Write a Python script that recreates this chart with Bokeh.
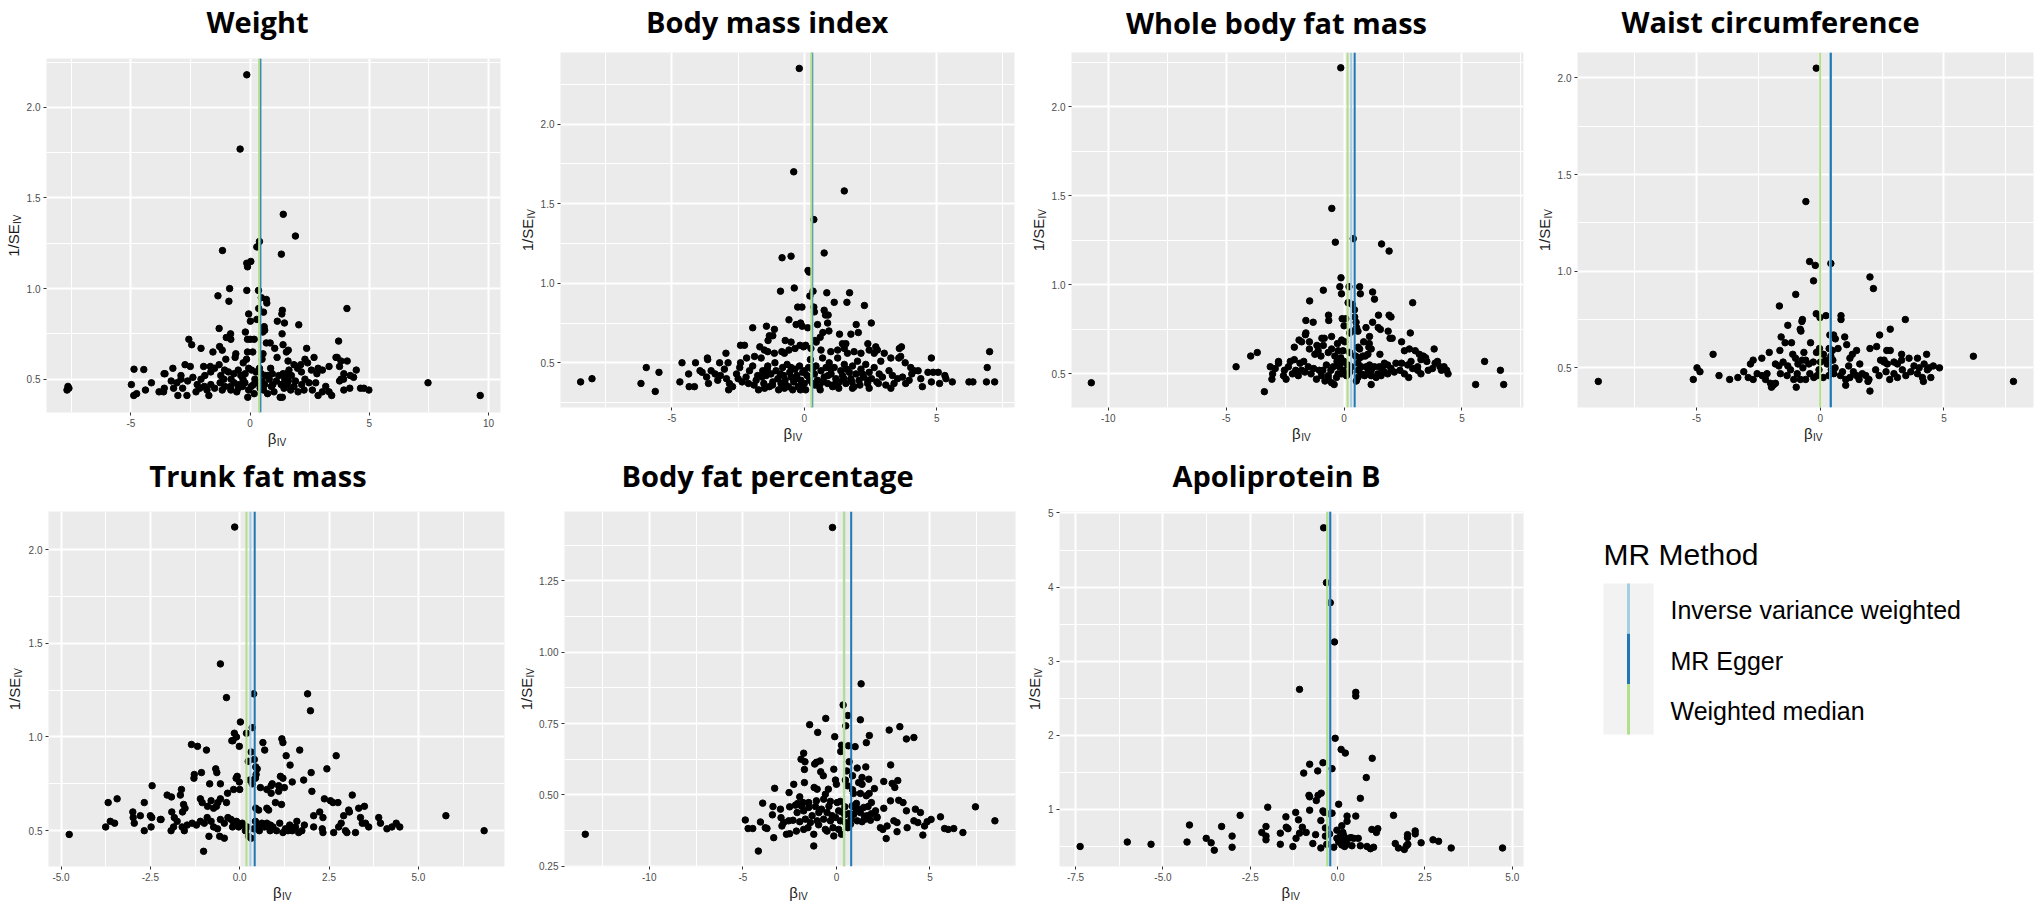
import math
from bokeh.plotting import figure
from bokeh.models import Range1d, FixedTicker, Span, Label
from bokeh.layouts import row, column
from bokeh.embed import file_html
from bokeh.resources import INLINE

# ---------------- data ----------------
METHODS = ["Inverse variance weighted", "MR Egger", "Weighted median"]
METHOD_COLORS = ["#a6cee3", "#1f78b4", "#b2df8a"]
LEGEND_TITLE = "MR Method"
Y_TITLE, Y_SUB = "1/SE", "IV"
X_TITLE, X_SUB = "β", "IV"

TITLES = ["Weight", "Body mass index", "Whole body fat mass", "Waist circumference",
          "Trunk fat mass", "Body fat percentage", "Apoliprotein B"]

# MR estimates (IVW, Egger, WM) per outcome
weight_est = [0.40, 0.43, 0.38]
bmi_est = [0.28, 0.30, 0.27]
wbfm_est = [0.30, 0.45, 0.15]
waist_est = [0.40, 0.43, 0.00]
trunk_est = [0.30, 0.42, 0.19]
bfp_est = [0.42, 0.79, 0.40]
apob_est = [-0.23, -0.21, -0.30]

weight_pts = [
    (-0.14, 2.18), (-0.42, 1.77), (1.39, 1.41), (1.90, 1.29), (0.39, 1.26), (0.28, 1.23), (-1.16, 1.21), (1.31, 1.19),
    (0.03, 1.15), (-0.14, 1.14), (-0.11, 1.12), (-0.86, 1.00), (-0.14, 0.99), (0.35, 0.99), (-1.35, 0.96), (-0.89, 0.93),
    (0.47, 0.95), (0.68, 0.94), (0.70, 0.92), (4.06, 0.89), (0.36, 0.89), (1.35, 0.88), (1.33, 0.86), (-0.06, 0.86),
    (0.56, 0.87), (0.01, 0.82), (0.28, 0.83), (1.14, 0.82), (1.44, 0.81), (2.04, 0.80), (-1.30, 0.78), (0.59, 0.79),
    (0.61, 0.77), (0.53, 0.76), (-0.20, 0.76), (-0.82, 0.75), (1.34, 0.75), (0.01, 0.72), (-0.11, 0.72), (0.17, 0.72),
    (-2.57, 0.72), (3.71, 0.71), (-2.45, 0.69), (-1.00, 0.73), (-0.81, 0.72), (0.68, 0.70), (0.84, 0.70), (1.38, 0.69),
    (-2.06, 0.67), (1.03, 0.67), (2.37, 0.67), (-1.28, 0.68), (-1.56, 0.65), (-1.17, 0.66), (-0.11, 0.65), (0.11, 0.65),
    (-0.60, 0.64), (0.54, 0.64), (1.52, 0.65), (1.60, 0.66), (2.68, 0.62), (3.60, 0.62), (3.65, 0.62), (-0.63, 0.62),
    (-1.02, 0.61), (-0.15, 0.61), (0.50, 0.61), (1.13, 0.62), (4.07, 0.60), (2.30, 0.61), (1.59, 0.60), (-0.29, 0.59),
    (1.84, 0.58), (2.12, 0.58), (2.41, 0.59), (3.81, 0.60), (3.75, 0.57), (3.31, 0.57), (-1.95, 0.57), (-2.73, 0.58),
    (-2.51, 0.57), (-1.67, 0.57), (-1.49, 0.56), (-1.30, 0.58), (-4.87, 0.555), (-4.46, 0.553), (-3.24, 0.56),
    (-3.57, 0.53), (-3.61, 0.53), (-2.90, 0.52), (-2.90, 0.50), (-3.31, 0.49), (-3.07, 0.48), (4.45, 0.55), (4.34, 0.51),
    (3.93, 0.53), (4.20, 0.52), (3.92, 0.50), (3.81, 0.50), (3.75, 0.49), (2.85, 0.56), (3.03, 0.55), (2.57, 0.55),
    (2.80, 0.53), (1.99, 0.56), (2.15, 0.54), (1.63, 0.55), (1.53, 0.53), (1.73, 0.52), (1.38, 0.53), (1.20, 0.52),
    (1.45, 0.50), (0.86, 0.56), (0.93, 0.53), (0.74, 0.52), (0.39, 0.56), (0.25, 0.54), (0.47, 0.53), (-0.06, 0.56),
    (0.06, 0.55), (-0.21, 0.53), (-0.50, 0.55), (-0.68, 0.53), (-0.39, 0.52), (-1.07, 0.55), (-0.91, 0.54), (-1.23, 0.52),
    (-1.65, 0.54), (-1.90, 0.52), (-2.06, 0.50), (-2.40, 0.51), (-2.62, 0.49), (-4.98, 0.47), (-4.88, 0.41), (-4.76, 0.42),
    (-4.39, 0.44), (-4.14, 0.48), (-3.82, 0.43), (-3.60, 0.45), (-3.63, 0.43), (-3.03, 0.41), (-2.65, 0.41), (-2.83, 0.45),
    (-3.21, 0.45), (-2.22, 0.47), (-2.11, 0.45), (-1.92, 0.46), (-2.27, 0.43), (-1.73, 0.41), (-1.81, 0.44), (-1.49, 0.45),
    (-1.65, 0.47), (-1.26, 0.48), (-1.06, 0.46), (-0.82, 0.46), (-1.17, 0.44), (-0.67, 0.48), (-0.50, 0.45), (-0.32, 0.46),
    (-0.56, 0.43), (-0.81, 0.44), (-0.10, 0.40), (-0.06, 0.44), (0.14, 0.47), (-0.22, 0.48), (0.17, 0.42), (0.31, 0.48),
    (0.42, 0.45), (0.56, 0.44), (0.61, 0.47), (0.73, 0.42), (0.89, 0.46), (1.00, 0.43), (1.26, 0.40), (1.35, 0.40),
    (1.42, 0.45), (1.56, 0.47), (1.70, 0.44), (1.84, 0.46), (2.01, 0.43), (2.16, 0.47), (2.26, 0.44), (2.47, 0.48),
    (2.61, 0.44), (2.75, 0.48), (2.85, 0.41), (3.03, 0.43), (3.17, 0.46), (3.31, 0.43), (3.42, 0.41), (3.93, 0.44),
    (4.18, 0.45), (4.63, 0.45), (4.77, 0.45), (4.98, 0.44), (7.46, 0.48), (9.65, 0.41), (-7.68, 0.44), (-7.60, 0.45),
    (-7.64, 0.46), (-0.30, 0.50), (0.20, 0.50), (0.50, 0.49), (0.80, 0.50), (1.10, 0.49), (-0.80, 0.50), (-1.10, 0.50),
    (0.65, 0.52), (0.95, 0.47), (1.60, 0.49), (-0.45, 0.47), (0.05, 0.46), (1.30, 0.47), (1.90, 0.49), (2.30, 0.50),
]

bmi_pts = [
    (-0.19, 2.35), (-0.40, 1.70), (1.51, 1.58), (0.36, 1.40), (0.75, 1.19), (-0.84, 1.16), (-0.50, 1.17), (0.14, 1.08),
    (0.18, 1.07), (-0.38, 0.97), (-0.90, 0.95), (0.33, 0.95), (0.85, 0.94), (1.71, 0.94), (0.21, 0.92), (1.13, 0.88),
    (1.61, 0.88), (2.27, 0.86), (-0.25, 0.85), (-0.09, 0.85), (0.36, 0.85), (0.38, 0.82), (0.75, 0.83), (0.80, 0.80),
    (0.90, 0.80), (-0.58, 0.77), (0.88, 0.75), (0.50, 0.74), (-0.14, 0.75), (-0.31, 0.74), (-0.08, 0.73), (0.13, 0.72),
    (1.96, 0.74), (2.53, 0.75), (-1.95, 0.72), (-1.43, 0.73), (-1.13, 0.71), (0.70, 0.69), (0.93, 0.70), (0.60, 0.66),
    (1.33, 0.68), (1.76, 0.68), (2.04, 0.69), (-1.32, 0.67), (-1.19, 0.67), (-1.37, 0.64), (-0.72, 0.64), (-0.50, 0.63),
    (0.40, 0.64), (0.45, 0.63), (1.44, 0.62), (1.57, 0.62), (2.40, 0.62), (-2.41, 0.61), (-2.26, 0.61), (-2.96, 0.56),
    (-0.16, 0.61), (0.05, 0.61), (-0.03, 0.60), (-0.35, 0.59), (-0.58, 0.58), (-0.85, 0.57), (-0.75, 0.56), (-1.68, 0.60),
    (-1.51, 0.58), (-1.38, 0.57), (-1.13, 0.56), (0.25, 0.59), (0.63, 0.58), (1.00, 0.57), (1.26, 0.58), (1.51, 0.59),
    (1.88, 0.57), (2.14, 0.56), (2.70, 0.60), (2.76, 0.58), (3.02, 0.56), (3.27, 0.53), (3.59, 0.59), (3.67, 0.60),
    (3.64, 0.54), (3.57, 0.53), (-2.18, 0.53), (-1.88, 0.54), (-1.63, 0.53), (-3.66, 0.53), (-3.65, 0.52), (-4.62, 0.50),
    (-4.11, 0.50), (-3.20, 0.50), (-2.88, 0.50), (-2.41, 0.50), (4.80, 0.53), (7.00, 0.57), (6.91, 0.47), (-5.97, 0.47),
    (-5.49, 0.44), (4.67, 0.44), (4.87, 0.44), (5.06, 0.44), (5.31, 0.42), (5.35, 0.40), (3.81, 0.50), (4.02, 0.47),
    (4.15, 0.45), (4.40, 0.40), (4.30, 0.45), (5.59, 0.38), (4.80, 0.38), (5.11, 0.37), (4.46, 0.35), (6.22, 0.38),
    (6.37, 0.38), (6.88, 0.38), (7.19, 0.38), (-8.45, 0.38), (-8.02, 0.40), (-6.17, 0.37), (-5.63, 0.32), (-4.70, 0.38),
    (-4.35, 0.35), (-4.15, 0.35), (-4.37, 0.43), (-3.94, 0.45), (-3.86, 0.44), (-3.69, 0.41), (-3.62, 0.37), (-3.52, 0.45),
    (-3.37, 0.43), (-3.27, 0.39), (-3.17, 0.42), (-3.02, 0.46), (-2.94, 0.40), (-2.83, 0.37), (-2.86, 0.33), (-2.71, 0.35),
    (-2.56, 0.43), (-2.44, 0.47), (-2.35, 0.38), (-2.20, 0.41), (-2.07, 0.45), (-2.11, 0.37), (-1.95, 0.48), (-1.82, 0.39),
    (-1.76, 0.42), (-1.73, 0.33), (-1.57, 0.45), (-1.53, 0.37), (-1.44, 0.42), (-1.38, 0.48), (-1.32, 0.35), (-1.26, 0.43),
    (-1.19, 0.38), (-1.11, 0.50), (-1.07, 0.45), (-1.00, 0.40), (-0.97, 0.33), (-0.88, 0.37), (-0.82, 0.47), (-0.78, 0.42),
    (-0.73, 0.39), (-0.65, 0.49), (-0.60, 0.35), (-0.55, 0.44), (-0.50, 0.41), (-0.44, 0.33), (-0.40, 0.38), (-0.35, 0.46),
    (-0.28, 0.42), (-0.23, 0.35), (-0.18, 0.48), (-0.13, 0.39), (-0.06, 0.44), (0.00, 0.37), (0.05, 0.33), (0.10, 0.42),
    (0.16, 0.47), (0.23, 0.52), (0.31, 0.37), (0.38, 0.43), (0.44, 0.48), (0.50, 0.39), (0.57, 0.35), (0.63, 0.45),
    (0.69, 0.53), (0.75, 0.41), (0.82, 0.47), (0.88, 0.37), (0.94, 0.50), (1.01, 0.43), (1.07, 0.36), (1.13, 0.47),
    (1.19, 0.40), (1.26, 0.53), (1.32, 0.38), (1.38, 0.45), (1.44, 0.42), (1.51, 0.49), (1.57, 0.37), (1.63, 0.56),
    (1.70, 0.44), (1.76, 0.40), (1.82, 0.48), (1.88, 0.35), (1.95, 0.43), (2.01, 0.51), (2.07, 0.39), (2.14, 0.46),
    (2.24, 0.41), (2.32, 0.49), (2.39, 0.37), (2.45, 0.44), (2.54, 0.40), (2.64, 0.47), (2.74, 0.38), (2.83, 0.43),
    (2.95, 0.41), (3.08, 0.36), (3.20, 0.45), (3.33, 0.42), (3.39, 0.37), (3.52, 0.40), (3.71, 0.41), (3.83, 0.37),
    (3.96, 0.39), (4.06, 0.43), (2.45, 0.34), (3.27, 0.34), (1.82, 0.34), (1.07, 0.35), (2.89, 0.51), (2.64, 0.56),
    (2.45, 0.58), (-1.90, 0.36), (-1.60, 0.41), (-1.20, 0.36), (-0.90, 0.43), (-0.70, 0.36), (-0.30, 0.40), (-0.10, 0.36),
    (0.20, 0.39), (0.40, 0.36), (0.70, 0.38), (0.90, 0.42), (1.20, 0.37), (1.50, 0.40), (1.80, 0.38), (2.10, 0.36),
    (2.40, 0.39), (2.80, 0.37), (0.00, 0.45), (0.30, 0.46), (-0.50, 0.47), (1.00, 0.46), (1.60, 0.46), (-1.40, 0.46),
    (2.20, 0.43), (-2.50, 0.40), (-0.15, 0.33), (0.60, 0.33), (1.30, 0.34), (-0.75, 0.34), (-1.50, 0.34),
]

wbfm_pts = [
    (-0.14, 2.22), (-0.52, 1.43), (-0.37, 1.24), (0.39, 1.26), (1.59, 1.23), (1.91, 1.19), (-0.13, 1.04), (-0.18, 0.99),
    (0.21, 0.99), (0.66, 0.99), (-0.11, 0.95), (0.69, 0.95), (-0.88, 0.97), (1.21, 0.96), (1.29, 0.92), (-1.46, 0.91),
    (2.91, 0.90), (0.17, 0.90), (0.35, 0.89), (0.44, 0.86), (0.45, 0.82), (-0.66, 0.83), (-0.65, 0.80), (1.46, 0.83),
    (1.91, 0.83), (1.99, 0.82), (-1.62, 0.80), (-1.31, 0.79), (-0.08, 0.81), (0.07, 0.81), (0.51, 0.79), (0.53, 0.76),
    (1.21, 0.79), (0.00, 0.77), (0.93, 0.76), (1.45, 0.76), (1.54, 0.75), (0.59, 0.74), (0.34, 0.74), (0.24, 0.73),
    (1.87, 0.74), (-1.62, 0.73), (-1.64, 0.72), (2.81, 0.73), (1.95, 0.70), (2.04, 0.70), (1.08, 0.71), (-0.84, 0.70),
    (-0.94, 0.70), (-0.53, 0.71), (-0.10, 0.69), (0.03, 0.68), (-1.91, 0.69), (-1.80, 0.68), (-1.47, 0.68), (2.44, 0.68),
    (0.83, 0.68), (1.07, 0.67), (-1.15, 0.66), (-0.88, 0.66), (-0.28, 0.67), (0.60, 0.65), (0.66, 0.64), (1.05, 0.65),
    (1.15, 0.64), (-2.11, 0.65), (3.82, 0.64), (2.56, 0.63), (2.77, 0.64), (3.02, 0.63), (-1.47, 0.64), (-1.10, 0.63),
    (-0.53, 0.64), (-0.67, 0.62), (-0.25, 0.63), (-0.04, 0.63), (0.24, 0.62), (-3.96, 0.60), (-3.68, 0.62), (1.52, 0.61),
    (1.01, 0.61), (0.80, 0.60), (3.19, 0.61), (3.36, 0.60), (3.46, 0.59), (-1.24, 0.61), (-0.98, 0.60), (-0.39, 0.60),
    (-0.14, 0.59), (0.49, 0.60), (0.67, 0.59), (0.90, 0.60), (-2.78, 0.57), (-2.28, 0.57), (-2.11, 0.58), (-1.87, 0.56),
    (-1.71, 0.57), (3.26, 0.58), (3.51, 0.57), (3.86, 0.56), (3.96, 0.57), (2.20, 0.56), (2.44, 0.56), (2.70, 0.55),
    (2.84, 0.57), (3.12, 0.54), (1.71, 0.56), (1.85, 0.55), (1.29, 0.54), (1.50, 0.54), (1.62, 0.53), (0.59, 0.56),
    (0.73, 0.54), (0.94, 0.54), (1.08, 0.55), (1.15, 0.52), (-3.13, 0.54), (-2.92, 0.53), (-3.03, 0.50), (-2.78, 0.56),
    (-2.46, 0.47), (-3.06, 0.47), (-4.58, 0.54), (-3.38, 0.40), (-10.72, 0.45), (5.58, 0.44), (5.96, 0.57), (6.63, 0.52),
    (6.77, 0.44), (4.24, 0.54), (4.35, 0.52), (4.13, 0.52), (4.41, 0.50), (4.07, 0.54), (3.75, 0.53), (3.57, 0.52),
    (3.26, 0.50), (3.12, 0.52), (2.91, 0.53), (2.74, 0.48), (2.56, 0.50), (2.37, 0.52), (2.13, 0.51), (1.99, 0.53),
    (1.85, 0.50), (1.71, 0.51), (1.57, 0.49), (1.43, 0.50), (1.36, 0.48), (1.15, 0.49), (1.01, 0.51), (0.87, 0.49),
    (0.73, 0.50), (0.59, 0.48), (0.52, 0.46), (1.15, 0.44), (0.31, 0.54), (0.24, 0.51), (0.10, 0.49), (-0.04, 0.52),
    (-0.14, 0.56), (-0.25, 0.50), (-0.32, 0.48), (-0.46, 0.54), (-0.56, 0.52), (-0.67, 0.49), (-0.42, 0.44), (-0.53, 0.45),
    (-0.67, 0.47), (-0.81, 0.46), (-0.96, 0.49), (-1.05, 0.52), (-1.17, 0.47), (-1.29, 0.53), (-1.40, 0.50), (-1.52, 0.54),
    (-1.66, 0.51), (-1.80, 0.52), (-1.94, 0.49), (-2.05, 0.52), (-2.19, 0.50), (-2.53, 0.52), (-2.36, 0.54), (-2.57, 0.49),
    (-0.20, 0.54), (0.00, 0.57), (0.15, 0.55), (-0.75, 0.55), (-0.10, 0.50), (0.60, 0.52), (-0.90, 0.52), (-0.30, 0.57),
]

waist_pts = [
    (-0.16, 2.05), (-0.58, 1.36), (-0.43, 1.05), (-0.20, 1.03), (0.43, 1.04), (-0.27, 0.95), (2.01, 0.97), (2.15, 0.91),
    (-0.99, 0.88), (-1.65, 0.82), (-0.16, 0.78), (0.23, 0.77), (-0.01, 0.76), (0.84, 0.77), (0.84, 0.75), (-0.72, 0.75),
    (-0.74, 0.74), (3.44, 0.75), (-1.31, 0.72), (-0.81, 0.70), (-0.78, 0.69), (2.83, 0.70), (2.40, 0.67), (0.39, 0.67),
    (0.54, 0.67), (-1.58, 0.66), (0.61, 0.65), (0.99, 0.66), (-1.42, 0.63), (-1.16, 0.63), (-0.39, 0.63), (1.07, 0.62),
    (0.72, 0.60), (2.28, 0.61), (2.01, 0.60), (-0.03, 0.60), (0.36, 0.60), (0.13, 0.57), (-1.63, 0.59), (-2.06, 0.58),
    (-0.66, 0.58), (-0.15, 0.58), (0.49, 0.59), (0.43, 0.56), (0.51, 0.54), (-4.33, 0.57), (1.47, 0.59), (1.30, 0.57),
    (1.20, 0.55), (2.69, 0.59), (2.83, 0.59), (2.58, 0.54), (3.29, 0.57), (4.30, 0.57), (3.93, 0.55), (6.19, 0.56),
    (-1.11, 0.57), (-1.00, 0.55), (-0.73, 0.54), (-0.59, 0.54), (-2.36, 0.55), (-2.71, 0.54), (-2.82, 0.52), (-1.81, 0.52),
    (-1.50, 0.53), (-1.67, 0.51), (-1.31, 0.51), (-1.20, 0.49), (-0.46, 0.52), (-0.28, 0.53), (0.01, 0.53), (0.22, 0.54),
    (0.28, 0.52), (2.44, 0.54), (2.58, 0.53), (2.71, 0.52), (2.98, 0.53), (3.12, 0.52), (3.29, 0.54), (3.59, 0.55),
    (3.79, 0.51), (4.00, 0.50), (4.20, 0.52), (4.40, 0.50), (4.57, 0.51), (4.82, 0.50), (-4.98, 0.50), (-4.86, 0.48),
    (-5.13, 0.44), (-4.09, 0.46), (-3.66, 0.44), (-3.33, 0.45), (-3.09, 0.48), (-2.91, 0.45), (-2.71, 0.44), (-2.55, 0.47),
    (-2.35, 0.46), (-2.21, 0.44), (-2.15, 0.47), (-2.01, 0.42), (-1.90, 0.41), (-1.81, 0.42), (-1.97, 0.40), (-0.97, 0.40),
    (-1.61, 0.47), (-1.34, 0.46), (-1.07, 0.44), (-0.93, 0.47), (-0.80, 0.44), (-0.59, 0.44), (-0.42, 0.47), (-0.26, 0.45),
    (-0.12, 0.46), (0.12, 0.45), (0.35, 0.46), (0.55, 0.47), (0.82, 0.46), (1.03, 0.44), (1.03, 0.41), (1.20, 0.45),
    (1.34, 0.48), (1.47, 0.46), (1.57, 0.44), (1.70, 0.47), (1.84, 0.46), (1.97, 0.44), (1.93, 0.43), (2.01, 0.38),
    (2.24, 0.49), (2.38, 0.46), (2.66, 0.48), (2.81, 0.44), (2.98, 0.47), (3.12, 0.45), (3.32, 0.49), (3.46, 0.46),
    (3.66, 0.48), (3.93, 0.47), (4.13, 0.45), (4.33, 0.49), (4.47, 0.45), (4.17, 0.43), (-8.97, 0.43), (7.81, 0.43),
    (0.60, 0.50), (0.90, 0.48), (1.15, 0.51), (-0.70, 0.50), (-0.05, 0.49), (0.45, 0.49), (1.60, 0.52), (-0.90, 0.52),
]

trunk_pts = [
    (-0.14, 2.12), (-0.54, 1.39), (-0.37, 1.21), (0.39, 1.23), (1.90, 1.23), (1.98, 1.14), (0.02, 1.08), (0.35, 1.05),
    (0.19, 1.02), (-0.15, 1.02), (-0.09, 1.00), (-0.19, 0.98), (-0.22, 0.98), (-0.01, 0.95), (-1.35, 0.96), (-1.18, 0.95),
    (-0.93, 0.93), (1.18, 0.99), (1.21, 0.97), (0.65, 0.97), (0.70, 0.93), (1.68, 0.93), (2.70, 0.90), (1.30, 0.90),
    (0.32, 0.92), (0.24, 0.87), (0.41, 0.88), (1.41, 0.85), (0.49, 0.83), (0.45, 0.84), (2.44, 0.83), (-0.67, 0.83),
    (-0.64, 0.81), (-1.07, 0.81), (-1.27, 0.80), (-1.28, 0.78), (2.00, 0.81), (0.46, 0.80), (0.44, 0.78), (-0.07, 0.79),
    (-0.10, 0.78), (1.14, 0.79), (1.21, 0.78), (1.79, 0.77), (1.47, 0.76), (-0.01, 0.76), (0.28, 0.77), (0.35, 0.75),
    (0.91, 0.75), (0.88, 0.74), (-0.84, 0.75), (-0.54, 0.75), (-2.45, 0.74), (1.09, 0.74), (1.25, 0.73), (1.09, 0.71),
    (0.58, 0.73), (0.76, 0.72), (0.88, 0.70), (-0.17, 0.72), (0.00, 0.72), (-1.63, 0.72), (-1.66, 0.69), (2.02, 0.71),
    (-0.34, 0.70), (-2.03, 0.69), (-1.91, 0.68), (3.15, 0.69), (2.37, 0.67), (2.54, 0.66), (2.61, 0.65), (1.00, 0.65),
    (2.75, 0.65), (-3.43, 0.67), (-3.68, 0.65), (-2.67, 0.65), (-1.10, 0.67), (-1.05, 0.65), (-0.80, 0.66), (-0.61, 0.65),
    (-0.65, 0.63), (-0.37, 0.65), (1.17, 0.64), (-1.57, 0.64), (-1.53, 0.62), (-1.60, 0.60), (-0.54, 0.67), (-0.73, 0.62),
    (-0.90, 0.63), (0.45, 0.62), (0.53, 0.61), (0.76, 0.62), (0.81, 0.61), (3.49, 0.63), (3.33, 0.62), (3.05, 0.61),
    (3.07, 0.60), (-2.99, 0.60), (-2.78, 0.58), (-2.98, 0.57), (-2.95, 0.54), (-3.75, 0.52), (-3.62, 0.55), (-3.50, 0.54),
    (-2.50, 0.58), (-2.46, 0.57), (-2.48, 0.52), (-2.67, 0.50), (-2.20, 0.56), (-2.22, 0.56), (-1.90, 0.60), (-1.83, 0.57),
    (-1.75, 0.55), (-1.92, 0.50), (-1.85, 0.52), (-1.61, 0.52), (-1.55, 0.50), (-1.47, 0.53), (-1.33, 0.54), (-1.21, 0.53),
    (-1.10, 0.55), (-0.99, 0.54), (-0.91, 0.57), (-0.80, 0.55), (-0.73, 0.52), (-0.62, 0.51), (-1.01, 0.39), (-0.86, 0.47),
    (-0.56, 0.47), (-0.43, 0.46), (-0.54, 0.56), (-0.43, 0.54), (-0.33, 0.57), (-0.24, 0.56), (-0.17, 0.54), (-0.09, 0.55),
    (-0.03, 0.52), (0.07, 0.54), (0.16, 0.50), (0.21, 0.52), (0.25, 0.47), (0.32, 0.46), (0.39, 0.51), (0.44, 0.55),
    (0.53, 0.53), (0.62, 0.54), (0.69, 0.52), (0.76, 0.54), (0.86, 0.53), (0.93, 0.52), (1.03, 0.50), (1.12, 0.54),
    (1.21, 0.49), (1.28, 0.51), (1.40, 0.53), (1.47, 0.50), (1.56, 0.52), (1.65, 0.49), (1.74, 0.50), (1.81, 0.53),
    (2.07, 0.58), (2.33, 0.57), (2.07, 0.52), (2.31, 0.51), (2.33, 0.49), (2.24, 0.60), (2.63, 0.49), (2.77, 0.52),
    (2.84, 0.54), (2.91, 0.58), (2.96, 0.50), (3.00, 0.49), (3.24, 0.49), (3.38, 0.57), (3.43, 0.54), (3.52, 0.54),
    (3.61, 0.52), (3.89, 0.57), (3.94, 0.54), (4.12, 0.51), (4.26, 0.52), (4.38, 0.54), (4.48, 0.52), (-4.77, 0.48),
    (5.77, 0.58), (6.84, 0.50), (0.10, 0.53), (0.55, 0.50), (0.85, 0.50), (1.35, 0.50), (-0.20, 0.52), (1.60, 0.55),
]

bfp_pts = [
    (-0.21, 1.437), (1.32, 0.889), (0.36, 0.815), (0.61, 0.778), (-0.57, 0.768), (1.28, 0.763), (-1.43, 0.746),
    (0.50, 0.742), (3.39, 0.739), (2.82, 0.727), (-1.00, 0.719), (1.76, 0.708), (-0.09, 0.704), (3.74, 0.696),
    (4.14, 0.701), (1.60, 0.683), (0.27, 0.674), (0.64, 0.672), (1.00, 0.669), (0.23, 0.652), (-1.75, 0.646),
    (-1.68, 0.616), (-1.89, 0.625), (-0.87, 0.619), (-1.07, 0.614), (-1.16, 0.608), (0.68, 0.616), (2.90, 0.605),
    (1.57, 0.598), (1.11, 0.594), (-0.14, 0.590), (0.55, 0.584), (-1.71, 0.589), (-0.84, 0.581), (-0.70, 0.567),
    (0.86, 0.567), (1.37, 0.561), (1.73, 0.555), (0.48, 0.552), (-0.05, 0.552), (2.53, 0.547), (3.28, 0.550),
    (-1.71, 0.543), (-2.28, 0.537), (1.19, 0.543), (1.37, 0.537), (2.98, 0.540), (3.12, 0.526), (0.00, 0.537),
    (0.59, 0.532), (-3.30, 0.523), (-1.19, 0.526), (-1.03, 0.520), (2.03, 0.522), (-0.43, 0.520), (0.86, 0.518),
    (0.91, 0.505), (-2.53, 0.508), (1.28, 0.505), (1.60, 0.497), (1.75, 0.505), (-0.59, 0.502), (-0.68, 0.485),
    (-1.07, 0.479), (-1.48, 0.473), (2.89, 0.479), (3.33, 0.481), (3.56, 0.473), (-3.94, 0.471), (-1.96, 0.493),
    (-2.07, 0.470), (-1.78, 0.473), (1.07, 0.470), (1.87, 0.473), (-0.32, 0.477), (0.04, 0.473), (0.21, 0.477),
    (7.43, 0.458), (-3.39, 0.459), (-2.99, 0.450), (-2.50, 0.458), (-2.19, 0.464), (-1.87, 0.461), (-1.48, 0.456),
    (-1.12, 0.459), (0.45, 0.458), (0.84, 0.461), (1.19, 0.450), (1.46, 0.456), (1.69, 0.459), (2.09, 0.444),
    (2.53, 0.453), (3.74, 0.444), (4.22, 0.450), (4.49, 0.438), (5.56, 0.423), (-2.10, 0.438), (-1.75, 0.444),
    (-1.30, 0.427), (-0.94, 0.438), (-0.50, 0.438), (-0.23, 0.427), (0.12, 0.444), (0.45, 0.430), (0.66, 0.434),
    (0.93, 0.432), (1.28, 0.438), (1.64, 0.427), (1.87, 0.434), (2.17, 0.420), (-3.42, 0.430), (-2.96, 0.420),
    (-2.82, 0.403), (-2.55, 0.409), (-2.32, 0.411), (-1.96, 0.406), (-1.66, 0.415), (-1.39, 0.403), (-1.03, 0.409),
    (-0.68, 0.415), (-0.32, 0.409), (-0.05, 0.421), (0.21, 0.409), (0.48, 0.403), (0.78, 0.415), (1.11, 0.409),
    (1.37, 0.406), (1.55, 0.415), (1.82, 0.411), (2.17, 0.423), (-4.87, 0.412), (-4.72, 0.382), (-4.47, 0.382),
    (-4.06, 0.405), (-3.80, 0.385), (-3.71, 0.382), (-2.91, 0.391), (-2.67, 0.362), (-2.50, 0.364), (-2.14, 0.373),
    (-1.75, 0.379), (-1.52, 0.385), (-1.21, 0.362), (-0.59, 0.379), (-0.50, 0.373), (-0.18, 0.385), (0.12, 0.379),
    (0.27, 0.362), (0.61, 0.385), (0.75, 0.397), (-1.21, 0.321), (-4.17, 0.303), (-3.35, 0.350), (-0.14, 0.356),
    (2.35, 0.385), (2.48, 0.379), (2.71, 0.391), (3.07, 0.409), (3.24, 0.403), (2.66, 0.347), (3.24, 0.371),
    (3.78, 0.385), (4.14, 0.409), (4.35, 0.403), (4.62, 0.359), (4.71, 0.391), (4.85, 0.406), (5.06, 0.414),
    (5.78, 0.382), (5.97, 0.379), (6.27, 0.382), (6.76, 0.368), (8.47, 0.409), (-13.42, 0.362),
    (0.30, 0.440), (-0.80, 0.450), (1.00, 0.455), (-0.40, 0.460), (0.65, 0.395), (-0.95, 0.395), (1.50, 0.425),
]

apob_pts = [
    (-0.40, 4.80), (-0.32, 4.06), (-0.21, 3.79), (-0.09, 3.26), (-1.09, 2.62), (0.52, 2.58), (0.52, 2.53), (-0.07, 1.96),
    (0.10, 1.81), (0.22, 1.76), (0.99, 1.69), (-0.80, 1.61), (-0.42, 1.63), (-0.16, 1.55), (-0.57, 1.52), (-0.97, 1.49),
    (0.82, 1.43), (-0.82, 1.19), (-0.80, 1.17), (-0.56, 1.19), (-0.47, 1.22), (-0.61, 1.12), (0.65, 1.15), (0.03, 1.07),
    (-2.00, 1.03), (-0.80, 0.99), (-0.42, 0.98), (-0.38, 0.96), (-0.16, 0.95), (-0.23, 0.94), (-1.20, 0.96), (-2.79, 0.92),
    (1.60, 0.92), (0.27, 0.91), (0.52, 0.91), (-1.48, 0.90), (-1.12, 0.86), (-0.48, 0.85), (0.27, 0.84), (-4.24, 0.79),
    (-3.32, 0.77), (-2.05, 0.77), (-1.01, 0.76), (-1.47, 0.76), (-1.42, 0.74), (-0.35, 0.75), (0.12, 0.78), (1.15, 0.74),
    (0.98, 0.73), (1.11, 0.69), (-2.17, 0.69), (-1.64, 0.68), (-1.09, 0.68), (-0.90, 0.69), (2.22, 0.71), (2.22, 0.67),
    (-0.23, 0.67), (-0.02, 0.72), (0.15, 0.69), (0.17, 0.65), (-3.02, 0.64), (-2.05, 0.64), (-0.63, 0.66), (-0.35, 0.64),
    (0.08, 0.64), (-0.02, 0.61), (0.31, 0.61), (2.00, 0.66), (2.00, 0.62), (-3.76, 0.61), (-2.05, 0.59), (-1.19, 0.61),
    (0.38, 0.62), (0.46, 0.61), (0.59, 0.61), (0.20, 0.59), (2.73, 0.59), (2.89, 0.57), (-6.02, 0.56), (-4.31, 0.56),
    (-3.62, 0.55), (-1.64, 0.53), (-0.71, 0.54), (0.03, 0.56), (0.12, 0.52), (0.27, 0.53), (0.08, 0.57), (1.65, 0.54),
    (2.39, 0.55), (2.01, 0.53), (1.97, 0.51), (-5.34, 0.53), (-1.28, 0.50), (-0.31, 0.53), (0.20, 0.50), (0.41, 0.51),
    (0.65, 0.51), (0.84, 0.50), (1.03, 0.49), (-7.37, 0.50), (-3.02, 0.49), (-0.48, 0.48), (-0.11, 0.49), (1.74, 0.48),
    (1.91, 0.46), (0.94, 0.47), (-3.53, 0.45), (3.25, 0.48), (4.72, 0.48),
]

# axis ticks and tick labels
weight_xticks, weight_xlabels = [-5, 0, 5, 10], ["-5", "0", "5", "10"]
weight_yticks, weight_ylabels = [0.5, 1.0, 1.5, 2.0], ["0.5", "1.0", "1.5", "2.0"]
bmi_xticks, bmi_xlabels = [-5, 0, 5], ["-5", "0", "5"]
bmi_yticks, bmi_ylabels = [0.5, 1.0, 1.5, 2.0], ["0.5", "1.0", "1.5", "2.0"]
wbfm_xticks, wbfm_xlabels = [-10, -5, 0, 5], ["-10", "-5", "0", "5"]
wbfm_yticks, wbfm_ylabels = [0.5, 1.0, 1.5, 2.0], ["0.5", "1.0", "1.5", "2.0"]
waist_xticks, waist_xlabels = [-5, 0, 5], ["-5", "0", "5"]
waist_yticks, waist_ylabels = [0.5, 1.0, 1.5, 2.0], ["0.5", "1.0", "1.5", "2.0"]
trunk_xticks, trunk_xlabels = [-5, -2.5, 0, 2.5, 5], ["-5.0", "-2.5", "0.0", "2.5", "5.0"]
trunk_yticks, trunk_ylabels = [0.5, 1.0, 1.5, 2.0], ["0.5", "1.0", "1.5", "2.0"]
bfp_xticks, bfp_xlabels = [-10, -5, 0, 5], ["-10", "-5", "0", "5"]
bfp_yticks, bfp_ylabels = [0.25, 0.5, 0.75, 1.0, 1.25], ["0.25", "0.50", "0.75", "1.00", "1.25"]
apob_xticks, apob_xlabels = [-7.5, -5, -2.5, 0, 2.5, 5], ["-7.5", "-5.0", "-2.5", "0.0", "2.5", "5.0"]
apob_yticks, apob_ylabels = [1, 2, 3, 4, 5], ["1", "2", "3", "4", "5"]

# ---------------- layout / style ----------------
# geo = (x0, x1, y0, y_end, frame_left, frame_right, frame_top, frame_bottom,
#        title_x, title_baseline, ylab_w, ylab_baseline_x)   -- page pixels
PANELS = [
    dict(pts=weight_pts, est=weight_est, xt=weight_xticks, xl=weight_xlabels, yt=weight_yticks, yl=weight_ylabels,
         xr=(-8.54, 10.5), yr=(0.316, 2.27), xm=[-7.5, -2.5, 2.5, 7.5], ym=[0.25, 0.75, 1.25, 1.75, 2.25],
         geo=(0, 515, 0, 450, 45, 500, 58, 412, 257, 31.5, 23, 18.5)),
    dict(pts=bmi_pts, est=bmi_est, xt=bmi_xticks, xl=bmi_xlabels, yt=bmi_yticks, yl=bmi_ylabels,
         xr=(-9.21, 7.94), yr=(0.219, 2.45), xm=[-7.5, -2.5, 2.5, 7.5], ym=[0.25, 0.75, 1.25, 1.75, 2.25],
         geo=(515, 1025, 0, 450, 559, 1014, 52, 407, 766.7, 31.5, 22, 532.5)),
    dict(pts=wbfm_pts, est=wbfm_est, xt=wbfm_xticks, xl=wbfm_xlabels, yt=wbfm_yticks, yl=wbfm_ylabels,
         xr=(-11.56, 7.61), yr=(0.311, 2.306), xm=[-7.5, -2.5, 2.5, 7.5], ym=[0.25, 0.75, 1.25, 1.75, 2.25],
         geo=(1025, 1535, 0, 450, 1068, 1523, 52, 407, 1276, 32.5, 23, 1043.5)),
    dict(pts=waist_pts, est=waist_est, xt=waist_xticks, xl=waist_xlabels, yt=waist_yticks, yl=waist_ylabels,
         xr=(-9.81, 8.62), yr=(0.295, 2.131), xm=[-7.5, -2.5, 2.5, 7.5], ym=[0.25, 0.75, 1.25, 1.75],
         geo=(1535, 2040, 0, 450, 1577, 2033, 52, 407, 1770, 31.5, 19, 1549.5)),
    dict(pts=trunk_pts, est=trunk_est, xt=trunk_xticks, xl=trunk_xlabels, yt=trunk_yticks, yl=trunk_ylabels,
         xr=(-5.35, 7.41), yr=(0.309, 2.203), xm=[-3.75, -1.25, 1.25, 3.75, 6.25], ym=[0.25, 0.75, 1.25, 1.75],
         geo=(0, 516, 450, 904, 48, 504, 511, 866, 257.5, 486, 24, 19.5)),
    dict(pts=bfp_pts, est=bfp_est, xt=bfp_xticks, xl=bfp_xlabels, yt=bfp_yticks, yl=bfp_ylabels,
         xr=(-14.53, 9.57), yr=(0.249, 1.493), xm=[-12.5, -7.5, -2.5, 2.5, 7.5], ym=[0.375, 0.625, 0.875, 1.125, 1.375],
         geo=(516, 1025, 450, 904, 564, 1015, 511, 866, 767, 486, 20, 531.5)),
    dict(pts=apob_pts, est=apob_est, xt=apob_xticks, xl=apob_xlabels, yt=apob_yticks, yl=apob_ylabels,
         xr=(-7.96, 5.32), yr=(0.23, 5.02), xm=[-6.25, -3.75, -1.25, 1.25, 3.75], ym=[0.5, 1.5, 2.5, 3.5, 4.5],
         geo=(1025, 1540, 450, 904, 1059, 1523, 511, 866, 1276, 486, 19, 1039.5)),
]
LEGEND_BOX = (1540, 2040, 450, 904)

TICK_FONT = "Liberation Sans"
AXIS_FONT = "Liberation Sans"
TITLE_FONT = "Open Sans"
GAP_TOP, GAP_BOTTOM = 10, 17
XLAB_BASE, XSUB_BASE = 31.5, 34.0   # below frame bottom
BASE_K = 0.37   # rendered baseline sits this many em below the anchor; compensate


def blank(w, h):
    f = figure(width=int(w), height=int(h), min_border=0, x_range=Range1d(0, w), y_range=Range1d(h, 0),
               toolbar_location=None, output_backend="svg", tools="",
               x_axis_location=None, y_axis_location=None)
    f.grid.visible = False
    f.outline_line_color = None
    f.background_fill_color = "white"
    f.border_fill_color = "white"
    return f


def text_label(fig, x, y, text, size, align="left", angle=0.0, font=AXIS_FONT, bold=False, color="#1a1a1a"):
    # (x, y) is where the alphabetic baseline should be drawn
    if angle:
        x = x - BASE_K * size
    else:
        y = y - BASE_K * size
    fig.add_layout(Label(x=x, y=y, text=text, angle=angle, text_align=align, text_baseline="alphabetic",
                         text_font=font, text_font_style="bold" if bold else "normal",
                         text_font_size=f"{size}px", text_color=color))


def make_cell(title, cfg):
    x0, x1, y0, y1, fl, fr, ft, fb, tx, ty, ylab_w, yx = cfg["geo"]
    title_h = ft - y0 - GAP_TOP
    plot_h = GAP_TOP + (fb - ft) + GAP_BOTTOM
    xlab_h = y1 - (fb + GAP_BOTTOM)
    plot_x0 = x0 + ylab_w
    plot_w = x1 - plot_x0
    bl = fl - plot_x0
    br = x1 - fr

    # --- scatter panel ---
    p = figure(width=plot_w, height=plot_h, min_border_left=bl, min_border_right=br,
               min_border_top=GAP_TOP, min_border_bottom=GAP_BOTTOM,
               x_range=Range1d(*cfg["xr"]), y_range=Range1d(*cfg["yr"]),
               toolbar_location=None, output_backend="svg", tools="")
    p.background_fill_color = "#ebebeb"
    p.border_fill_color = "white"
    p.outline_line_color = None

    xt = FixedTicker(ticks=cfg["xt"], minor_ticks=cfg["xm"])
    yt = FixedTicker(ticks=cfg["yt"], minor_ticks=cfg["ym"])
    p.xaxis.ticker = xt
    p.yaxis.ticker = yt
    p.xgrid.ticker = xt
    p.ygrid.ticker = yt
    p.xaxis.major_label_overrides = {t: l for t, l in zip(cfg["xt"], cfg["xl"])}
    p.yaxis.major_label_overrides = {t: l for t, l in zip(cfg["yt"], cfg["yl"])}
    for ax in (p.xaxis, p.yaxis):
        ax.axis_line_color = None
        ax.major_tick_line_color = "#333333"
        ax.major_tick_line_width = 1
        ax.major_tick_out = 3
        ax.major_tick_in = 0
        ax.minor_tick_line_color = None
        ax.major_label_text_font = TICK_FONT
        ax.major_label_text_font_size = "10px"
        ax.major_label_text_color = "#4d4d4d"
        ax.major_label_standoff = 2
    for g in (p.xgrid, p.ygrid):
        g.grid_line_color = "white"
        g.grid_line_width = 2
        g.minor_grid_line_color = "white"
        g.minor_grid_line_width = 1

    xs = [pt[0] for pt in cfg["pts"]]
    ys = [pt[1] for pt in cfg["pts"]]
    p.scatter(xs, ys, size=6.5, color="black")
    for est, col in zip(cfg["est"], METHOD_COLORS):
        p.add_layout(Span(location=est, dimension="height", line_color=col, line_width=2))

    # --- title strip ---
    tfig = blank(x1 - x0, title_h)
    text_label(tfig, tx - x0, ty - y0, title, 29, align="center", font=TITLE_FONT, bold=True, color="black")

    # --- y axis title strip (1/SE_IV) ---
    yfig = blank(ylab_w, plot_h + xlab_h)
    top_ref = y0 + title_h
    yc = (ft + fb) / 2 + 5 - top_ref
    text_label(yfig, yx - x0, yc, Y_TITLE, 15, align="center", angle=math.pi / 2)
    text_label(yfig, yx - x0 + 2, yc - 16.5, Y_SUB, 10, align="left", angle=math.pi / 2)

    # --- x axis title strip (beta_IV) ---
    xfig = blank(plot_w, xlab_h)
    xc = (fl + fr) / 2 - plot_x0
    text_label(xfig, xc - 0.5, XLAB_BASE - GAP_BOTTOM, X_TITLE, 15, align="right")
    text_label(xfig, xc, XSUB_BASE - GAP_BOTTOM, X_SUB, 10, align="left")

    return column(tfig, row(yfig, column(p, xfig)))


cells = [make_cell(t, c) for t, c in zip(TITLES, PANELS)]

# legend panel (page position of key block: x 1603-1653, y 583-734)
lx0, lx1, ly0, ly1 = LEGEND_BOX
pl = blank(lx1 - lx0, ly1 - ly0)
key_left, key_w, key_top, key_h = 1603 - lx0, 50, 583 - ly0, 50.3
text_label(pl, key_left, key_top - 18, LEGEND_TITLE, 30, color="black")
pl.quad(left=key_left, right=key_left + key_w, top=key_top, bottom=key_top + key_h * len(METHODS),
        fill_color="#f2f2f2", line_color=None)
for i, (m, c) in enumerate(zip(METHODS, METHOD_COLORS)):
    ky = key_top + key_h * i
    pl.segment(x0=key_left + key_w / 2, y0=ky, x1=key_left + key_w / 2, y1=ky + key_h, line_color=c, line_width=3)
    text_label(pl, key_left + 67, ky + 36, m, 25, color="black")

layout = column(row(*cells[:4]), row(*cells[4:], pl))

open("out.html", "w").write(file_html(layout, INLINE))
